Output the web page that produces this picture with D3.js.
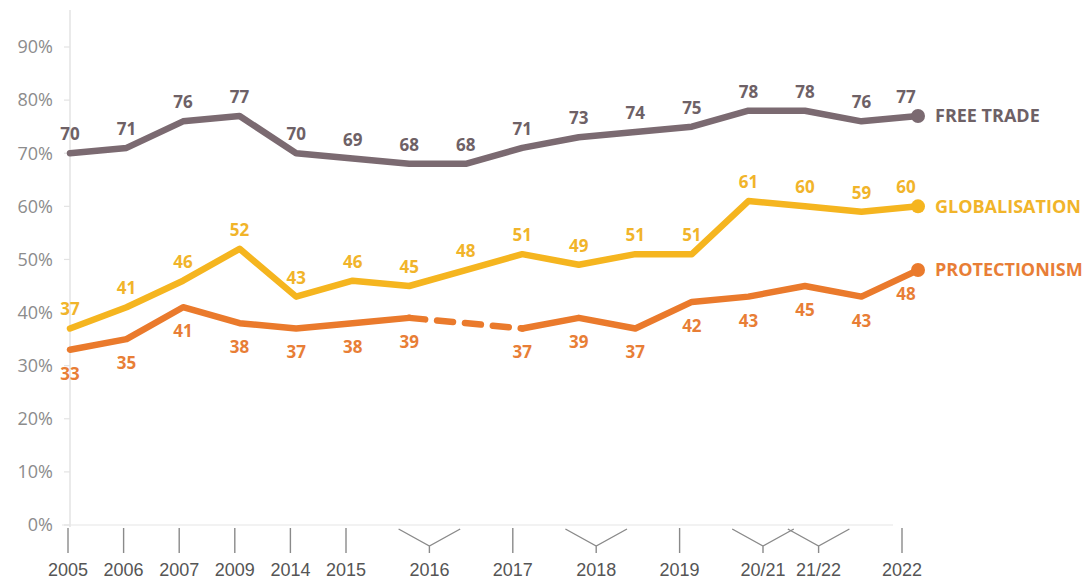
<!DOCTYPE html>
<html>
<head>
<meta charset="utf-8">
<script src="https://cdn.jsdelivr.net/npm/d3@7"></script>
<style>
  html, body { margin: 0; padding: 0; background: #fff; }
  svg { display: block; }
</style>
</head>
<body>
<svg id="chart" width="1086" height="579"></svg>
<script>
// Survey waves (one slot per wave) and share of respondents (%) with a positive view
const waves = ["2005", "2006", "2007", "2009", "2014", "2015", "2016a", "2016b",
               "2017", "2018a", "2018b", "2019", "2020/21", "2021a", "2021/22", "2022"];
const freeTrade     = [70, 71, 76, 77, 70, 69, 68, 68, 71, 73, 74, 75, 78, 78, 76, 77];
const globalisation = [37, 41, 46, 52, 43, 46, 45, 48, 51, 49, 51, 51, 61, 60, 59, 60];
const protectionism = [33, 35, 41, 38, 37, 38, 39, null, 37, 39, 37, 42, 43, 45, 43, 48];

// Axis labelling: single waves get a tick, paired waves get a bracket
const tickLabels = [
  { label: "2005", from: 0, to: 0 },
  { label: "2006", from: 1, to: 1 },
  { label: "2007", from: 2, to: 2 },
  { label: "2009", from: 3, to: 3 },
  { label: "2014", from: 4, to: 4 },
  { label: "2015", from: 5, to: 5 },
  { label: "2016", from: 6, to: 7 },
  { label: "2017", from: 8, to: 8 },
  { label: "2018", from: 9, to: 10 },
  { label: "2019", from: 11, to: 11 },
  { label: "20/21", from: 12, to: 13 },
  { label: "21/22", from: 13, to: 14 },
  { label: "2022", from: 15, to: 15 }
];
const yTicks = [0, 10, 20, 30, 40, 50, 60, 70, 80, 90];

const series = [
  { name: "FREE TRADE",    values: freeTrade,     line: "#7b6a71", text: "#6e6166", below: false },
  { name: "GLOBALISATION", values: globalisation, line: "#f5b51f", text: "#f1b42a", below: false },
  { name: "PROTECTIONISM", values: protectionism, line: "#ea7a2c", text: "#e87e36", below: true }
];

const svg = d3.select("#chart");
const idx = d3.range(waves.length);

const x = d3.scalePoint().domain(idx).range([70, 918]);
const xAxisPos = d3.scalePoint().domain(idx).range([68, 902]);
const y = d3.scaleLinear().domain([0, 90]).range([525, 47]);

// Y axis
const yAxis = svg.append("g");
yAxis.append("line")
  .attr("x1", 70).attr("x2", 70).attr("y1", 10).attr("y2", 527)
  .attr("stroke", "#e3e3e3").attr("stroke-width", 1.5);
yAxis.append("line")
  .attr("x1", 62).attr("x2", 893).attr("y1", y(0)).attr("y2", y(0))
  .attr("stroke", "#e6e6e6").attr("stroke-width", 1.2);
yAxis.selectAll("line.tick").data(yTicks).join("line")
  .attr("class", "tick")
  .attr("x1", 64).attr("x2", 70)
  .attr("y1", d => y(d)).attr("y2", d => y(d))
  .attr("stroke", "#e3e3e3").attr("stroke-width", 1.2);
yAxis.selectAll("text").data(yTicks).join("text")
  .attr("x", 53).attr("y", d => y(d))
  .attr("dy", "0.35em")
  .attr("text-anchor", "end")
  .attr("font-family", "'Open Sans', sans-serif")
  .attr("font-size", 18)
  .attr("fill", "#8c8c8c")
  .text(d => d + "%");

// X axis: ticks and brackets
const xAxis = svg.append("g");
tickLabels.forEach(t => {
  const a = xAxisPos(t.from), b = xAxisPos(t.to);
  const mid = (a + b) / 2;
  if (t.from === t.to) {
    xAxis.append("line")
      .attr("x1", mid).attr("x2", mid).attr("y1", 528).attr("y2", 553)
      .attr("stroke", "#8a8a8a").attr("stroke-width", 1.4);
  } else {
    const half = (b - a) / 2 + 3;
    xAxis.append("path")
      .attr("d", `M${mid - half},529 L${mid},546 L${mid + half},529 M${mid},546 L${mid},553`)
      .attr("fill", "none").attr("stroke", "#8a8a8a").attr("stroke-width", 1.4);
  }
  xAxis.append("text")
    .attr("x", mid).attr("y", 576)
    .attr("text-anchor", "middle")
    .attr("font-family", "'Liberation Sans', Arial, sans-serif")
    .attr("font-size", 18)
    .attr("fill", "#555")
    .text(t.label);
});

// Lines
const line = d3.line()
  .defined(d => d.v != null)
  .x(d => x(d.i))
  .y(d => y(d.v));

series.forEach(s => {
  const pts = s.values.map((v, i) => ({ i, v }));
  const g = svg.append("g");

  g.append("path")
    .datum(pts)
    .attr("d", line)
    .attr("fill", "none")
    .attr("stroke", s.line)
    .attr("stroke-width", 6.5)
    .attr("stroke-linejoin", "round")
    .attr("stroke-linecap", "round");

  // dashed bridge across missing waves
  pts.forEach((p, i) => {
    if (p.v == null) return;
    if (i + 1 < pts.length && pts[i + 1].v == null) {
      let j = i + 1;
      while (j < pts.length && pts[j].v == null) j++;
      if (j < pts.length) {
        g.append("path")
          .datum([p, pts[j]])
          .attr("d", line)
          .attr("fill", "none")
          .attr("stroke", s.line)
          .attr("stroke-width", 6.5)
          .attr("stroke-dasharray", "16,12")
          .attr("stroke-linecap", "round");
      }
    }
  });

  // end marker
  const last = pts[pts.length - 1];
  g.append("circle")
    .attr("cx", x(last.i)).attr("cy", y(last.v)).attr("r", 7)
    .attr("fill", s.line);

  // value labels
  g.selectAll("text.val").data(pts.filter(p => p.v != null)).join("text")
    .attr("class", "val")
    .attr("x", p => x(p.i) + (p.i === pts.length - 1 ? -12 : 0))
    .attr("y", p => y(p.v) + (s.below ? 30 : -13))
    .attr("text-anchor", "middle")
    .attr("font-family", "'Open Sans', sans-serif")
    .attr("font-weight", 700)
    .attr("font-size", 17)
    .attr("fill", s.text)
    .text(p => p.v);

  // series name
  g.append("text")
    .attr("x", x(last.i) + 17)
    .attr("y", y(last.v))
    .attr("dy", "0.35em")
    .attr("font-family", "'Open Sans', sans-serif")
    .attr("font-weight", 700)
    .attr("font-size", 18)
    .attr("fill", s.text)
    .text(s.name);
});
</script>
</body>
</html>
